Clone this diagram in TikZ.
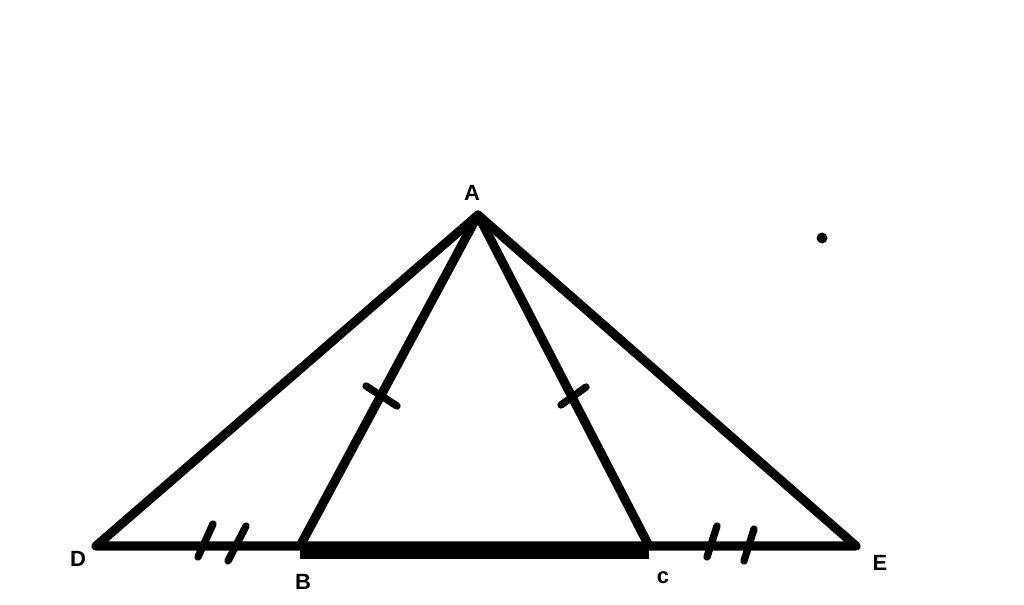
\documentclass[tikz,border=0pt]{standalone}
\usepackage{fontspec}
\setmainfont{Liberation Sans}
\usetikzlibrary{calc}
\tikzset{every picture/.style={line width=0.75pt}}
\tikzset{
  side/.style={line width=6.8pt, line cap=round, line join=round},
  base/.style={line width=12pt},
  tick/.style={line width=5.5pt, line cap=round},
  lbl/.style={inner sep=0.75pt, font=\fontsize{16.5}{18}\selectfont\bfseries}
}
\begin{document}
\begin{tikzpicture}[x=0.75pt,y=0.75pt,yscale=-1,xscale=1]
\useasboundingbox (0,0) rectangle (1024,605);

% Points
\coordinate (A) at (478,215);
\coordinate (D) at (96,546);
\coordinate (E) at (856,546);
\coordinate (B) at (300,546);
\coordinate (C) at (649,546);

%Shape: outer triangle and cevians
\draw [side] (D) -- (A) -- (E) -- cycle ;
\draw [side] (B) -- (A) -- (C) ;
%Straight Lines: thick base
\draw [base] ($(B)+(0,5)$) -- ($(C)+(0,5)$) ;

%Ticks on AB and AC
\draw [tick] (366,386) -- (397,406) ;
\draw [tick] (561,405) -- (586,387) ;
%Double ticks on DB and CE
\draw [tick] (198,557) -- (213,524) ;
\draw [tick] (228,561) -- (246,526) ;
\draw [tick] (707,557) -- (717,526) ;
\draw [tick] (744,561) -- (754,529) ;

%Dot
\fill (822,238) circle [radius=5.5] ;

% Text Node
\node [lbl] (lA) at (472,193) {A};
\node [lbl] (lD) at (78,559) {D};
\node [lbl] (lB) at (303,582) {B};
\node [lbl] (lC) at (663,578) {c};
\node [lbl] (lE) at (880,563) {E};

\end{tikzpicture}
\end{document}
